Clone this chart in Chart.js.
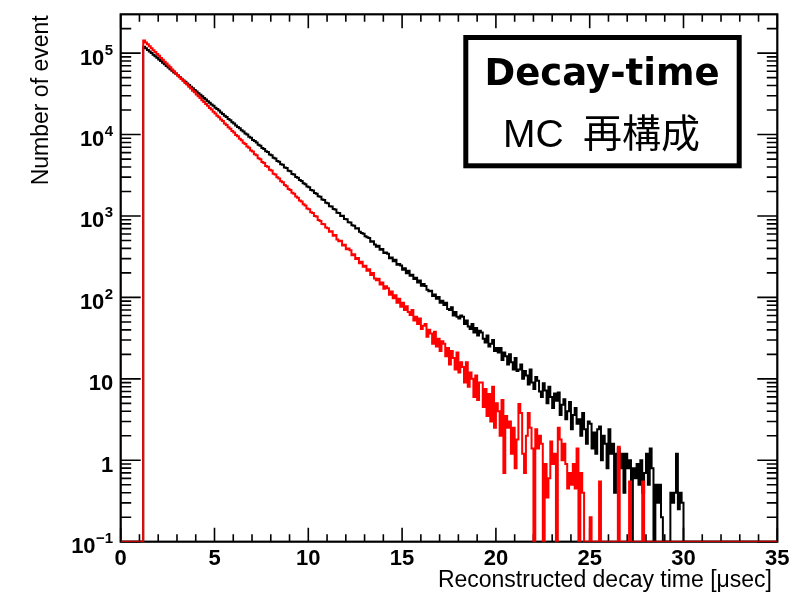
<!DOCTYPE html>
<html>
<head>
<meta charset="utf-8">
<script src="https://cdn.jsdelivr.net/npm/chart.js@4.4.1/dist/chart.umd.min.js"></script>
<style>
html,body{margin:0;padding:0;background:#fff;}
#wrap{width:806px;height:595px;}
</style>
</head>
<body>
<div id="wrap"><canvas id="c" width="806" height="595"></canvas></div>
<script>
// ---------- data ----------
const xMin = 0, xMax = 35, binWidth = 0.1;   // 350 bins
const yMin = 0.1, yMax = 3e5;

// black histogram (bin contents, bins of 0.1 usec from 0 to 35)
const blackCounts = [
0,0,0,0,0,0,0,0,0,0,0,0,
120200,115100,109600,105100,100100,95900,91400,87700,83500,80000,
76300,73100,69600,66800,63600,60950,58050,55700,53000,50850,
48600,46250,44400,42250,40550,38600,37050,35250,33850,32150,
30750,29550,28050,27000,25600,24650,23400,22550,21350,20580,
19700,18620,17950,17000,16420,15530,15000,14180,13700,12950,
12380,11960,11290,10930,10310,9990,9410,9120,8590,8330,
7980,7490,7290,6840,6650,6230,6090,5690,5560,5190,
5090,4740,4650,4320,4250,3950,3880,3600,3550,3290,
3230,3010,2940,2760,2690,2520,2450,2300,2250,2090,
2060,1920,1880,1745,1720,1590,1570,1450,1430,1320,
1310,1215,1200,1100,1090,1000,1005,920,915,840,
835,770,760,700,705,640,620,605,565,548,
535,482,490,447,418,430,385,392,350,355,
345,302,310,279,290,252,258,247,218,228,
198,212,185,190,168,174,152,161,139,146,
138,124,119,121,104,109,96,101,86,91,
81,86,72,70,76,60,66,58,55,60,
58,47,52,44,41,47,37,42,34,39,
37,31,28,34,25,27,30,22,24,21,
24,17,21,19,15,20,16,13,18,12.5,
13,15,10,12.5,11,8.5,13,9,7.5,10.5,
9.5,7,6,8.8,7.2,5,8,6,4.4,6.6,
5.4,6.8,3.6,4.8,5.6,3.2,4,5.2,2.4,3.6,
4.4,2.8,3.2,2.0,3.8,2.4,1.6,3.0,2.8,1.4,
2.2,1.2,2.4,2.6,1.0,2.0,1.6,0.8,2.4,1.2,
1.6,0.4,1.2,1.4,0.8,1.2,0.4,1.2,0.8,1.0,
0,0.8,0.6,0.9,0.5,1.0,0.4,0.7,1.2,0.5,
1.4,0.8,0,0.5,0.3,0.5,0.2,0,0,0,
0,0.4,0.3,0.4,1.2,0.25,0.4,0.3,0,0,
0,0,0,0,0,0,0,0,0,0,
0,0,0,0,0,0,0,0,0,0,
0,0,0,0,0,0,0,0,0,0,
0,0,0,0,0,0,0,0,0,0,
0,0,0,0,0,0,0,0
];

// red histogram
const redCounts = [
0,0,0,0,0,0,0,0,0,0,0,0,
142900,135100,128400,121200,115100,108700,103300,97500,92700,87400,
83100,78400,74600,70300,66900,63100,60050,56600,53850,50750,
48050,45800,43100,41100,38650,36850,34650,33050,31100,29650,
28100,26400,25200,23700,22650,21200,20300,19050,18200,17050,
16350,15300,14650,13720,13150,12300,11820,11030,10600,9880,
9530,8860,8540,7950,7680,7120,6890,6380,6190,5720,
5560,5120,4990,4600,4480,4110,4020,3690,3610,3300,
3230,2990,2880,2680,2590,2400,2320,2150,2090,1930,
1870,1740,1680,1550,1510,1390,1350,1240,1210,1110,
1090,1000,985,890,870,800,790,720,705,640,
650,572,585,515,490,498,435,445,390,400,
380,330,340,296,305,262,275,238,245,212,
222,188,200,171,162,170,144,153,128,137,
130,108,118,98,106,86,96,77,86,70,
78,66,61,70,52,58,47,55,41,45,
47,33,40,36,27,38,25,31,22,29,
27,19,24,15,22,18,13,21,12,16,
14,9,16,8,12,10,6,11,5.5,9,
9,4.5,7.5,3.5,6.5,3,8,2.5,5,4,
2,5.5,0.7,3.5,2.5,3.0,1.2,2.5,0.8,1.8,
4.9,3.8,1.2,0.7,2.0,3.8,2.5,1.4,0,2.4,
1.4,2.0,1.6,0,0.9,0.35,0.6,1.7,0.9,1.2,
0,2.5,1.8,1.0,1.6,0.9,0.45,0.7,0.5,0.9,
0.45,1.4,0,0.7,0.4,0,0,0,0.2,0,
0,0,0,0.55,0,0,0,0,0,0,
0,0,0,1.47,0,0,0,0,0,0.55,
0,0,0,0,0,0,0.55,0,0,0,
0,0,0,0,0,0,0,0,0,0,
0,0,0,0,0,0,0,0,0,0,
0,0,0,0,0,0,0,0,0,0,
0,0,0,0,0,0,0,0,0,0,
0,0,0,0,0,0,0,0,0,0,
0,0,0,0,0,0,0,0,0,0,
0,0,0,0,0,0,0,0
];

// axis ticks / labels
const xMajorTicks = [0,5,10,15,20,25,30,35];
const xTickLabels = ['0','5','10','15','20','25','30','35'];
const xMinorTicks = [1,2,3,4,6,7,8,9,11,12,13,14,16,17,18,19,21,22,23,24,26,27,28,29,31,32,33,34];
const yMajorTicks = [0.1,1,10,100,1000,10000,100000];
const yTickBase = ['10','1','10','10','10','10','10'];
const yTickExp  = ['\u22121','','','2','3','4','5'];
const yMinorMultipliers = [2,3,4,5,6,7,8,9];

const xTitle = 'Reconstructed decay time [\u03bcsec]';
const yTitle = 'Number of event';
const boxLine1 = 'Decay-time';
const boxLine2a = 'MC';
const boxLine2b = '再構成';

// ---------- build ----------
function toPoints(counts){
  const pts = counts.map((v,i)=>({x: xMin + i*binWidth, y: v > 0 ? v : yMin}));
  const last = counts[counts.length-1];
  pts.push({x: xMax, y: last > 0 ? last : yMin});
  return pts;
}

const axesPlugin = {
  id: 'rootAxes',
  beforeDatasetsDraw(chart){
    const {ctx, chartArea:a, scales:{x, y}} = chart;
    ctx.save();
    ctx.strokeStyle = '#000';
    ctx.lineWidth = 1.6;
    ctx.beginPath();
    xMajorTicks.forEach(v=>{
      const px = x.getPixelForValue(v);
      ctx.moveTo(px, a.bottom); ctx.lineTo(px, a.bottom-14);
      ctx.moveTo(px, a.top); ctx.lineTo(px, a.top+14);
    });
    xMinorTicks.forEach(v=>{
      const px = x.getPixelForValue(v);
      ctx.moveTo(px, a.bottom); ctx.lineTo(px, a.bottom-7.5);
      ctx.moveTo(px, a.top); ctx.lineTo(px, a.top+7.5);
    });
    yMajorTicks.forEach(v=>{
      const py = y.getPixelForValue(v);
      ctx.moveTo(a.left, py); ctx.lineTo(a.left+20, py);
      ctx.moveTo(a.right, py); ctx.lineTo(a.right-20, py);
      yMinorMultipliers.forEach(m=>{
        const mv = v*m;
        if (mv >= yMax) return;
        const pm = y.getPixelForValue(mv);
        ctx.moveTo(a.left, pm); ctx.lineTo(a.left+10.5, pm);
        ctx.moveTo(a.right, pm); ctx.lineTo(a.right-10.5, pm);
      });
    });
    ctx.stroke();
    ctx.lineWidth = 2.2;
    ctx.strokeRect(a.left, a.top, a.right-a.left, a.bottom-a.top);
    ctx.restore();
  },
  afterDraw(chart){
    const {ctx, chartArea:a, scales:{x, y}} = chart;
    ctx.save();
    ctx.fillStyle = '#000';
    ctx.font = 'bold 22px "Liberation Sans", Arial, sans-serif';
    ctx.textAlign = 'center';
    ctx.textBaseline = 'alphabetic';
    xMajorTicks.forEach((v,i)=>{
      ctx.fillText(xTickLabels[i], x.getPixelForValue(v), 565);
    });
    const rightEdge = a.left - 7.5;
    yMajorTicks.forEach((v,i)=>{
      const py = y.getPixelForValue(v);
      ctx.textAlign = 'right';
      let baseRight = rightEdge;
      if (yTickExp[i]) {
        ctx.font = 'bold 15px "Liberation Sans", Arial, sans-serif';
        const w = ctx.measureText(yTickExp[i]).width;
        ctx.fillText(yTickExp[i], rightEdge, py + 1.5);
        baseRight = rightEdge - w - 0.5;
      }
      ctx.font = 'bold 22px "Liberation Sans", Arial, sans-serif';
      ctx.fillText(yTickBase[i], baseRight, py + 11.5);
    });
    ctx.font = '23px "Liberation Sans", Arial, sans-serif';
    ctx.textAlign = 'right';
    ctx.fillText(xTitle, 772, 587);
    ctx.save();
    ctx.translate(48, a.top + 1);
    ctx.rotate(-Math.PI/2);
    ctx.textAlign = 'right';
    ctx.fillText(yTitle, 0, 0);
    ctx.restore();
    // text box
    ctx.fillStyle = '#fff';
    ctx.fillRect(463.3, 35, 278.4, 133.3);
    ctx.strokeStyle = '#000';
    ctx.lineWidth = 5;
    ctx.strokeRect(465.8, 37.5, 273.4, 128.3);
    ctx.fillStyle = '#000';
    ctx.textAlign = 'center';
    ctx.font = 'bold 37px "DejaVu Sans", sans-serif';
    ctx.fillText(boxLine1, 602, 85);
    ctx.textAlign = 'left';
    ctx.font = '39px "Liberation Sans", Arial, sans-serif';
    ctx.fillText(boxLine2a, 503, 147);
    ctx.font = '39px "Noto Sans CJK JP", sans-serif';
    ctx.fillText(boxLine2b, 583, 147);
    ctx.restore();
  }
};

new Chart(document.getElementById('c').getContext('2d'), {
  type: 'line',
  data: {
    datasets: [
      {label: 'red', data: toPoints(redCounts), borderColor: '#ff0000', borderWidth: 2,
       stepped: true, pointRadius: 0, fill: false, tension: 0},
      {label: 'black', data: toPoints(blackCounts), borderColor: '#000000', borderWidth: 2,
       stepped: true, pointRadius: 0, fill: false, tension: 0}
    ]
  },
  options: {
    responsive: false,
    animation: false,
    events: [],
    layout: {padding: {left: 120.7, right: 28.7, top: 14.3, bottom: 53.3}},
    plugins: {legend: {display: false}, tooltip: {enabled: false}, title: {display: false}},
    scales: {
      x: {type: 'linear', min: xMin, max: xMax, display: false},
      y: {type: 'logarithmic', min: yMin, max: yMax, display: false}
    }
  },
  plugins: [axesPlugin]
});
</script>
</body>
</html>
